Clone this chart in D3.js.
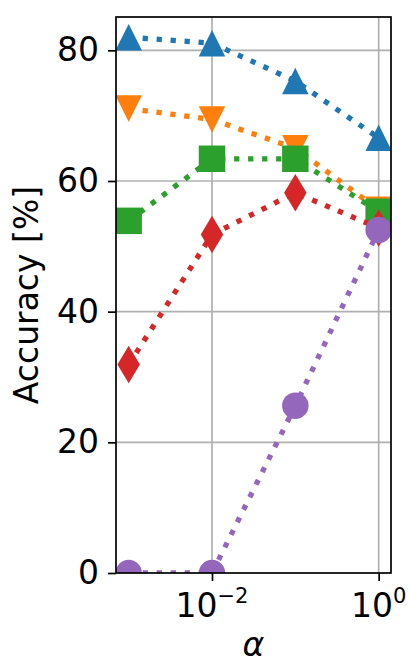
<!DOCTYPE html>
<html>
<head>
<meta charset="utf-8">
<script src="https://cdn.jsdelivr.net/npm/d3@7"></script>
<style>
  body { margin: 0; background: #fff; }
  text { font-family: "DejaVu Sans", sans-serif; fill: #000; }
</style>
</head>
<body>
<div id="chart"></div>
<script>
// data
var alphas = [1e-3, 1e-2, 1e-1, 1e0];
var blueVals = [82.0, 81.1, 75.3, 66.6];
var orangeVals = [71.1, 69.4, 65.0, 55.6];
var greenVals = [53.9, 63.4, 63.4, 55.3];
var redVals = [31.9, 51.8, 58.2, 52.8];
var purpleVals = [0, 0, 25.6, 52.5];
var yTicks = [0, 20, 40, 60, 80];
var xTicks = [1e-2, 1e0];

var series = [
  { vals: blueVals, color: "#1f77b4", marker: "up" },
  { vals: orangeVals, color: "#ff7f0e", marker: "down" },
  { vals: greenVals, color: "#2ca02c", marker: "square" },
  { vals: redVals, color: "#d62728", marker: "diamond" },
  { vals: purpleVals, color: "#9467bd", marker: "circle" }
];

var svgWidth = 409;
var svgHeight = 662;
var margin = { top: 17, right: 18, bottom: 89, left: 116 };
var width = svgWidth - margin.left - margin.right;
var height = svgHeight - margin.top - margin.bottom;

var svg = d3.select("#chart")
  .append("svg")
  .attr("width", svgWidth)
  .attr("height", svgHeight);

var chartGroup = svg.append("g")
  .attr("transform", `translate(${margin.left}, ${margin.top})`);

var xScale = d3.scaleLog()
  .domain([Math.pow(10, -3.152), Math.pow(10, 0.148)])
  .range([0, width]);

var yScale = d3.scaleLinear()
  .domain([0, 85.1])
  .range([height, 0]);

// grid
chartGroup.append("g").selectAll("line")
  .data(yTicks.filter(d => d > 0))
  .enter().append("line")
  .attr("x1", 0).attr("x2", width)
  .attr("y1", d => yScale(d)).attr("y2", d => yScale(d))
  .attr("stroke", "#b0b0b0").attr("stroke-width", 1.7);

chartGroup.append("g").selectAll("line")
  .data(xTicks)
  .enter().append("line")
  .attr("y1", 0).attr("y2", height)
  .attr("x1", d => xScale(d)).attr("x2", d => xScale(d))
  .attr("stroke", "#b0b0b0").attr("stroke-width", 1.7);

svg.append("defs").append("clipPath")
  .attr("id", "clip")
  .append("rect")
  .attr("width", width).attr("height", height);

var m = 26.5;
function markerPath(type) {
  var h = m / 2;
  if (type === "up") return `M0,${-h}L${h},${h}L${-h},${h}Z`;
  if (type === "down") return `M0,${h}L${h},${-h}L${-h},${-h}Z`;
  if (type === "square") return `M${-h},${-h}H${h}V${h}H${-h}Z`;
  if (type === "diamond") {
    var dy = m * 0.707, dx = dy * 0.6;
    return `M0,${-dy}L${dx},0L0,${dy}L${-dx},0Z`;
  }
  return d3.arc()({ innerRadius: 0, outerRadius: h, startAngle: 0, endAngle: 2 * Math.PI });
}

var plotArea = chartGroup.append("g").attr("clip-path", "url(#clip)");

var line = d3.line()
  .x((d, i) => xScale(alphas[i]))
  .y(d => yScale(d));

series.forEach(function(s) {
  var g = plotArea.append("g");
  g.append("path")
    .datum(s.vals)
    .attr("d", line)
    .attr("fill", "none")
    .attr("stroke", s.color)
    .attr("stroke-width", 5.3)
    .attr("stroke-dasharray", "5.3,8.7");
  g.selectAll(".mk")
    .data(s.vals)
    .enter().append("path")
    .attr("transform", (d, i) => `translate(${xScale(alphas[i])},${yScale(d)})`)
    .attr("d", markerPath(s.marker))
    .attr("fill", s.color);
});

// axes
var leftAxis = d3.axisLeft(yScale).tickValues(yTicks).tickSize(8).tickPadding(9);
var yAxisG = chartGroup.append("g").call(leftAxis);
yAxisG.select(".domain").remove();
yAxisG.selectAll(".tick line").attr("stroke-width", 1.7);
yAxisG.selectAll(".tick text")
  .style("font-size", "33px")
  .attr("font-family", "DejaVu Sans");

var bottomAxis = d3.axisBottom(xScale).tickValues(xTicks).tickSize(8).tickFormat("");
var xAxisG = chartGroup.append("g")
  .attr("transform", `translate(0, ${height})`)
  .call(bottomAxis);
xAxisG.select(".domain").remove();
xAxisG.selectAll(".tick line").attr("stroke-width", 1.7);

var xLabels = chartGroup.append("g").selectAll("text")
  .data(xTicks)
  .enter().append("text")
  .attr("x", d => xScale(d))
  .attr("y", height + 44)
  .attr("text-anchor", "middle")
  .style("font-size", "33px");
xLabels.append("tspan").text("10");
xLabels.append("tspan")
  .attr("dy", -14)
  .style("font-size", "21px")
  .text(d => { var e = Math.round(Math.log10(d)); return e < 0 ? "\u2212" + (-e) : "" + e; });

// frame
chartGroup.append("rect")
  .attr("width", width).attr("height", height)
  .attr("fill", "none")
  .attr("stroke", "#000")
  .attr("stroke-width", 1.7);

// axis titles
svg.append("text")
  .attr("transform", `translate(38, ${margin.top + height / 2}) rotate(-90)`)
  .attr("text-anchor", "middle")
  .style("font-size", "33px")
  .text("Accuracy [%]");

svg.append("text")
  .attr("x", margin.left + width / 2)
  .attr("y", 656)
  .attr("text-anchor", "middle")
  .style("font-size", "33px")
  .style("font-style", "italic")
  .text("\u03b1");
</script>
</body>
</html>
